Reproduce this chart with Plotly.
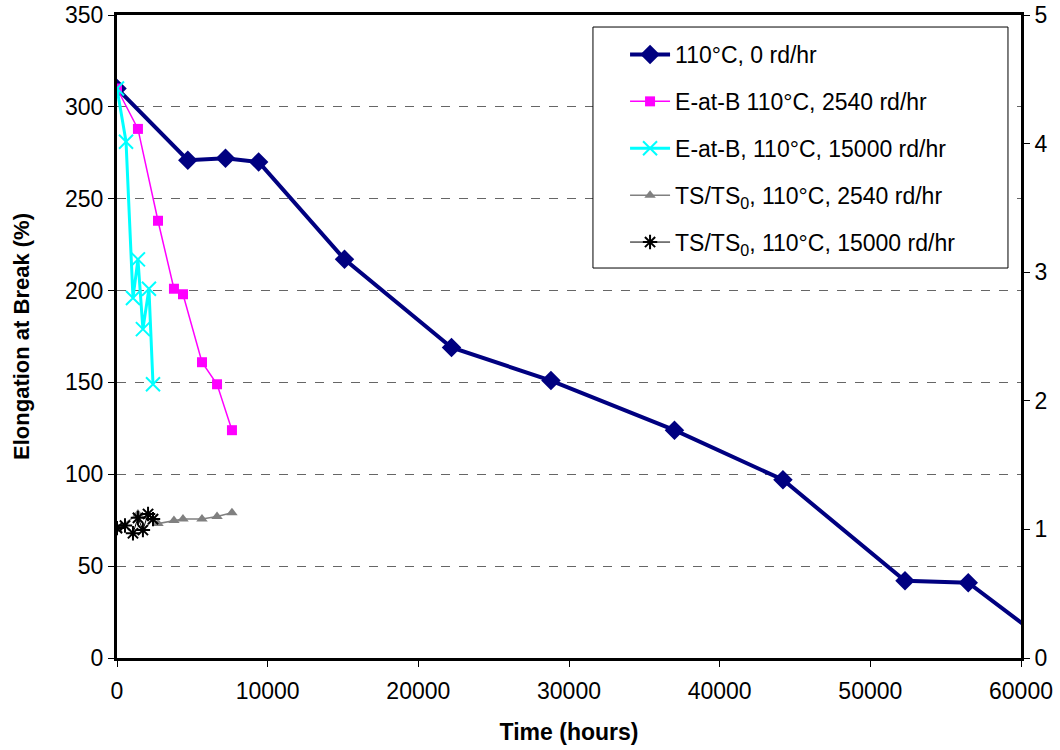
import plotly.graph_objects as go

# Data
t_0rd = [0, 4700, 7200, 9400, 15100, 22200, 28800, 37000, 44200, 52300, 56500, 62800]
e_0rd = [310, 271, 272, 270, 217, 169, 151, 124, 97, 42, 41, 2]

t_2540 = [0, 1390, 2720, 3780, 4380, 5640, 6640, 7630]
e_2540 = [310, 288, 238, 201, 198, 161, 149, 124]

t_15000 = [0, 600, 1060, 1390, 1720, 2120, 2390]
e_15000 = [310, 281, 196, 217, 179, 201, 149]

ts_t_2540 = [0, 1390, 2720, 3780, 4380, 5640, 6640, 7630]
ts_2540 = [1.0, 1.12, 1.045, 1.07, 1.08, 1.08, 1.10, 1.13]

ts_t_15000 = [0, 530, 1060, 1390, 1720, 2060, 2390]
ts_15000 = [1.01, 1.03, 0.97, 1.09, 0.995, 1.12, 1.08]

names = ["110°C, 0 rd/hr", "E-at-B 110°C, 2540 rd/hr", "E-at-B, 110°C, 15000 rd/hr",
         "TS/TS<sub>0</sub>, 110°C, 2540 rd/hr", "TS/TS<sub>0</sub>, 110°C, 15000 rd/hr"]

fig = go.Figure()
fig.add_trace(go.Scatter(x=t_0rd, y=e_0rd, name=names[0], mode="lines+markers", legendgroup="a",
                         line=dict(color="#000080", width=4),
                         marker=dict(symbol="diamond", size=15, color="#000080")))
fig.add_trace(go.Scatter(x=t_2540, y=e_2540, name=names[1], mode="lines+markers", legendgroup="b",
                         line=dict(color="#FF00FF", width=1.5),
                         marker=dict(symbol="square", size=10, color="#FF00FF")))
fig.add_trace(go.Scatter(x=t_15000, y=e_15000, name=names[2], mode="lines+markers", legendgroup="c",
                         line=dict(color="#00FFFF", width=3),
                         marker=dict(symbol="x-thin-open", size=14, color="#00FFFF",
                                     line=dict(color="#00FFFF", width=2))))
fig.add_trace(go.Scatter(x=ts_t_2540, y=ts_2540, name=names[3], mode="lines+markers", yaxis="y2",
                         legendgroup="d",
                         line=dict(color="#808080", width=1.5),
                         marker=dict(symbol="triangle-up", size=10, color="#808080")))
fig.add_trace(go.Scatter(x=ts_t_15000, y=ts_15000, name=names[4], mode="lines+markers", yaxis="y2",
                         legendgroup="e",
                         line=dict(color="#000000", width=1),
                         marker=dict(symbol="asterisk-open", size=12, color="#000000",
                                     line=dict(color="#000000", width=2))))

font_family = "Liberation Sans, Arial, sans-serif"
fig.update_layout(
    width=1060, height=750,
    margin=dict(l=117, r=39, t=15, b=92, autoexpand=False),
    paper_bgcolor="white", plot_bgcolor="white",
    font=dict(family=font_family, size=23, color="black"),
    showlegend=True,
    legend=dict(x=0.562, y=0.972, xanchor="left", yanchor="top",
                bgcolor="rgba(0,0,0,0)", borderwidth=0,
                font=dict(size=23), traceorder="grouped", tracegroupgap=14,
                itemwidth=40),
    shapes=[dict(type="rect", xref="paper", yref="paper",
                 x0=0.5265, x1=0.9856, y0=0.6065, y1=0.9813,
                 line=dict(color="black", width=1), fillcolor="white", layer="above")],
    xaxis=dict(range=[0, 60000], dtick=10000, tickformat="d", automargin=False,
               showgrid=False, zeroline=False,
               showline=True, linecolor="black", linewidth=3, mirror=True,
               ticks="outside", ticklen=6, tickcolor="black", tickwidth=1,
               tickfont=dict(size=23), ticklabelstandoff=4,
               title=dict(text="<b>Time (hours)</b>", font=dict(size=23), standoff=22)),
    yaxis=dict(range=[0, 350], dtick=50, automargin=False,
               showgrid=True, gridcolor="#666666", griddash="dash", gridwidth=1,
               zeroline=False,
               showline=True, linecolor="black", linewidth=3,
               ticks="outside", ticklen=6, tickcolor="black", tickwidth=1,
               tickfont=dict(size=23),
               title=dict(text="<b>Elongation at Break (%)</b>", font=dict(size=22), standoff=30)),
    yaxis2=dict(range=[0, 5], dtick=1, overlaying="y", side="right", automargin=False,
                showgrid=False, zeroline=False,
                showline=True, linecolor="black", linewidth=3,
                ticks="outside", ticklen=6, tickcolor="black", tickwidth=1,
                tickfont=dict(size=23)),
)

fig.write_html("out.html")
